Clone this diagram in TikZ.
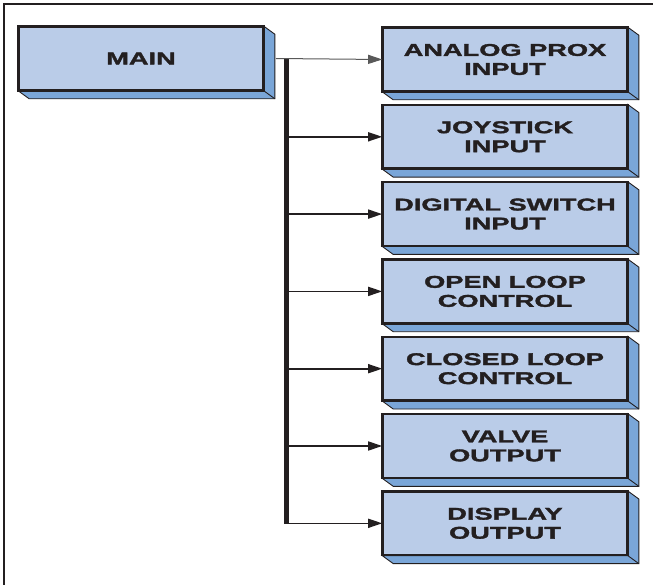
\documentclass[tikz,border=0pt]{standalone}
\usepackage{fontspec}
\newfontfamily\boxfont{Liberation Sans}[FakeStretch=1.6,FakeBold=2]
\usetikzlibrary{positioning}
\usetikzlibrary{arrows.meta}
\usetikzlibrary{calc}

\definecolor{faceblue}{RGB}{186,204,232}
\definecolor{sideblue}{RGB}{122,166,216}
\definecolor{edgegray}{RGB}{35,31,32}

\tikzset{
  block/.style={draw=edgegray,line width=1.6pt,fill=faceblue,minimum width=244pt,
    minimum height=63pt,inner sep=0pt,align=center,
    font=\boxfont\bfseries\fontsize{17}{19}\selectfont,text=edgegray},
  side/.style={draw=edgegray,line width=0.9pt,fill=sideblue,line join=miter},
  feed/.style={draw=edgegray,line width=1.6pt,-{Triangle[length=14pt,width=9pt]}},
}

\begin{document}
\begin{tikzpicture}[x=1pt,y=-1pt]
  \useasboundingbox (0,0) rectangle (653,585);
  % frame
  \draw[edgegray,line width=1.4pt] (4,585) -- (4,4) -- (653,4);

  % Place nodes
  \node[block] (main) at (141,58.5) {MAIN};
  \node[block] (analog) at (505,59.5) {ANALOG PROX\\INPUT};
  \node[block,below=12.7pt of analog] (joy) {JOYSTICK\\INPUT};
  \node[block,below=12.7pt of joy] (digital) {DIGITAL SWITCH\\INPUT};
  \node[block,below=12.7pt of digital] (open) {OPEN LOOP\\CONTROL};
  \node[block,below=12.7pt of open] (closed) {CLOSED LOOP\\CONTROL};
  \node[block,below=12.7pt of closed] (valve) {VALVE\\OUTPUT};
  \node[block,below=12.7pt of valve] (display) {DISPLAY\\OUTPUT};

  % 3D depth of the boxes
  \foreach \n in {main,analog,joy,digital,open,closed,valve,display}{
    \draw[side] (\n.north east) -- ++(11,8) -- ($(\n.south east)+(11,8)$)
      -- ($(\n.south west)+(11,8)$) -- (\n.south west) -- (\n.south east) -- cycle;
    \draw[side] (\n.south east) -- ++(11,8);
    \draw[edgegray,line width=1.6pt] (\n.south west) rectangle (\n.north east);
  }

  % trunk
  \coordinate (top) at (286,59);
  \coordinate (bot) at (top |- display.west);
  \draw[edgegray,line width=5pt] (top) -- ($(bot)+(0,0.8)$);
  \draw[gray!70!black,line width=1pt,-{Triangle[length=14pt,width=9pt]}]
    ($(main.east)+(12,0)$) -- (analog.west);
  \foreach \n in {joy,digital,open,closed,valve,display}
    \draw[feed] (top |- \n.west) -- (\n.west);
\end{tikzpicture}
\end{document}
